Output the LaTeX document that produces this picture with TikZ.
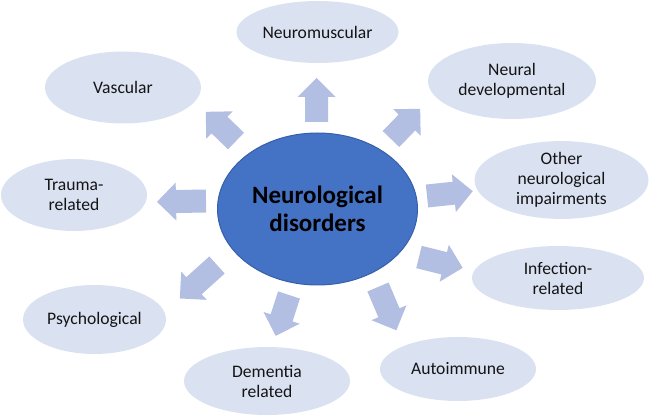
\documentclass[tikz,border=0pt]{standalone}
\usepackage{fontspec}
\setmainfont{Carlito}
\usetikzlibrary{shapes.geometric}
\definecolor{centfill}{RGB}{68,114,196}
\definecolor{centline}{RGB}{55,95,170}
\definecolor{outfill}{RGB}{218,226,242}
\definecolor{arrfill}{RGB}{178,190,226}
\definecolor{txt}{RGB}{20,20,20}
\tikzset{
  outer/.style={ellipse, fill=outfill, inner sep=0pt, align=center, text=txt,
    font=\fontsize{17.6}{20}\selectfont},
  center/.style={ellipse, fill=centfill, draw=centline, line width=1pt, inner sep=0pt,
    align=center, text=black, font=\fontsize{25}{28.5}\selectfont\bfseries},
  arr/.style={fill=arrfill}
}
\newcommand\blockarrow[4]{%
  \begin{scope}[shift={(#1,#2)},rotate=#3]
    \fill[arr] (0,-11.5) -- (#4-19,-11.5) -- (#4-19,-19) -- (#4,0) -- (#4-19,19)
      -- (#4-19,11.5) -- (0,11.5) -- cycle;
  \end{scope}}
\begin{document}
\begin{tikzpicture}[x=1pt,y=1pt]
\useasboundingbox (0,0) rectangle (649,-417);
\node[center, minimum width=200, minimum height=152] (c) at (317.5,-209) {Neurological\\disorders};
\node[outer, minimum width=162, minimum height=62] (nm) at (317.5,-32) {Neuromuscular};
\node[outer, minimum width=156, minimum height=72] (va) at (123,-87.5) {Vascular};
\node[outer, minimum width=146, minimum height=72] (tr) at (74,-195) {Trauma-\\related};
\node[outer, minimum width=168, minimum height=76] (nd) at (512,-81) {Neural\\developmental};
\node[outer, minimum width=174, minimum height=72] (ot) at (561.5,-180) {Other\\neurological\\impairments};
\node[outer, minimum width=172, minimum height=64] (in) at (558,-278) {Infection-\\related};
\node[outer, minimum width=156, minimum height=64] (au) at (458,-369) {Autoimmune};
\node[outer, minimum width=166, minimum height=68] (de) at (267,-381) {Dementia\\related};
\node[outer, minimum width=143, minimum height=69] (ps) at (94.5,-319.5) {Psychological};
\blockarrow{316.5}{-122}{90}{44}
\blockarrow{236}{-141}{136}{42}
\blockarrow{391}{-139}{46}{42}
\blockarrow{427}{-196}{6}{46}
\blockarrow{419}{-257}{-14}{45}
\blockarrow{378}{-287}{-67}{47}
\blockarrow{289}{-295}{-108}{43}
\blockarrow{217}{-265}{-138}{50}
\blockarrow{206}{-201}{181}{49}
\end{tikzpicture}
\end{document}
